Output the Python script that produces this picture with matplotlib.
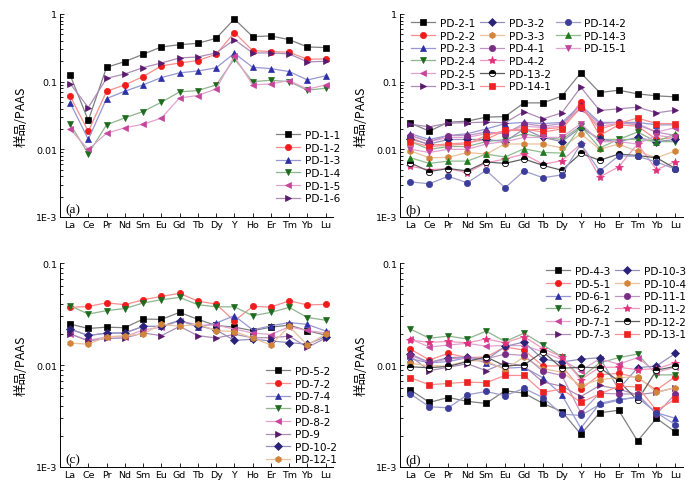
import numpy as np
import matplotlib.pyplot as plt
from matplotlib.ticker import FixedLocator, LogLocator, NullFormatter
from matplotlib.lines import Line2D
from matplotlib.colors import to_rgb

plt.rcParams['font.family'] = ['DejaVu Sans']

elements = ['La', 'Ce', 'Pr', 'Nd', 'Sm', 'Eu', 'Gd', 'Tb', 'Dy', 'Y', 'Ho', 'Er', 'Tm', 'Yb', 'Lu']

# panel (a)
a_labels = ['PD-1-1', 'PD-1-2', 'PD-1-3', 'PD-1-4', 'PD-1-5', 'PD-1-6']
a_values = [
    [0.126, 0.0267, 0.163, 0.198, 0.254, 0.326, 0.352, 0.369, 0.437, 0.844, 0.463, 0.474, 0.418, 0.326, 0.319],
    [0.0617, 0.0184, 0.0722, 0.0896, 0.119, 0.171, 0.189, 0.205, 0.254, 0.531, 0.288, 0.278, 0.272, 0.214, 0.217],
    [0.0492, 0.0140, 0.0563, 0.0722, 0.0896, 0.115, 0.135, 0.144, 0.160, 0.263, 0.163, 0.156, 0.141, 0.106, 0.122],
    [0.0238, 0.0086, 0.0230, 0.0292, 0.0362, 0.0497, 0.0706, 0.0739, 0.0896, 0.217, 0.100, 0.105, 0.100, 0.0748, 0.080],
    [0.0199, 0.00995, 0.0173, 0.0208, 0.0235, 0.0289, 0.0576, 0.0624, 0.0782, 0.237, 0.0896, 0.0927, 0.104, 0.0773, 0.0896],
    [0.0938, 0.0415, 0.112, 0.130, 0.161, 0.189, 0.224, 0.232, 0.266, 0.418, 0.266, 0.266, 0.257, 0.196, 0.200],
]

# panel (b)
b_labels = ['PD-2-1', 'PD-2-2', 'PD-2-3', 'PD-2-4', 'PD-2-5', 'PD-3-1', 'PD-3-2', 'PD-3-3',
            'PD-4-1', 'PD-4-2', 'PD-13-2', 'PD-14-1', 'PD-14-2', 'PD-14-3', 'PD-15-1']
b_values = [
    [0.0244, 0.0186, 0.0251, 0.0261, 0.0299, 0.0305, 0.0486, 0.0486, 0.061, 0.135, 0.069, 0.0748, 0.066, 0.0617, 0.0596],
    [0.015, 0.0115, 0.012, 0.0125, 0.014, 0.019, 0.019, 0.020, 0.021, 0.050, 0.016, 0.023, 0.022, 0.014, 0.015],
    [0.017, 0.014, 0.016, 0.017, 0.020, 0.024, 0.025, 0.024, 0.025, 0.045, 0.025, 0.025, 0.025, 0.023, 0.023],
    [0.013, 0.010, 0.011, 0.011, 0.013, 0.014, 0.017, 0.015, 0.014, 0.022, 0.014, 0.014, 0.018, 0.013, 0.013],
    [0.016, 0.013, 0.015, 0.015, 0.017, 0.018, 0.022, 0.021, 0.022, 0.040, 0.022, 0.024, 0.024, 0.018, 0.021],
    [0.0235, 0.0215, 0.0244, 0.0247, 0.0253, 0.0247, 0.0362, 0.0282, 0.0346, 0.0828, 0.0375, 0.0397, 0.0420, 0.0346, 0.0379],
    [0.014, 0.012, 0.014, 0.014, 0.014, 0.013, 0.020, 0.015, 0.013, 0.021, 0.014, 0.013, 0.015, 0.013, 0.014],
    [0.0095, 0.0075, 0.0076, 0.009, 0.0085, 0.012, 0.012, 0.012, 0.0105, 0.017, 0.010, 0.012, 0.0093, 0.0075, 0.0095],
    [0.016, 0.013, 0.016, 0.016, 0.018, 0.017, 0.024, 0.022, 0.024, 0.041, 0.024, 0.025, 0.023, 0.018, 0.016],
    [0.0056, 0.005, 0.0052, 0.0045, 0.0063, 0.0072, 0.0085, 0.006, 0.0068, 0.012, 0.0039, 0.0055, 0.012, 0.005, 0.0066],
    [0.0063, 0.0047, 0.0052, 0.0048, 0.0065, 0.0062, 0.0072, 0.0058, 0.0049, 0.0087, 0.0069, 0.0085, 0.0081, 0.0075, 0.0052],
    [0.013, 0.011, 0.0115, 0.012, 0.016, 0.019, 0.020, 0.018, 0.020, 0.042, 0.020, 0.024, 0.029, 0.024, 0.024],
    [0.0033, 0.0031, 0.0040, 0.0032, 0.0049, 0.0027, 0.0048, 0.0038, 0.0042, 0.012, 0.0048, 0.0080, 0.0079, 0.0065, 0.0051],
    [0.0075, 0.0062, 0.0067, 0.0067, 0.0085, 0.0077, 0.0102, 0.0090, 0.0088, 0.022, 0.0105, 0.014, 0.014, 0.013, 0.017],
    [0.010, 0.009, 0.010, 0.010, 0.012, 0.013, 0.015, 0.015, 0.015, 0.024, 0.013, 0.013, 0.012, 0.016, 0.015],
]

# panel (c)
c_labels = ['PD-5-2', 'PD-7-2', 'PD-7-4', 'PD-8-1', 'PD-8-2', 'PD-9', 'PD-10-2', 'PD-12-1']
c_values = [
    [0.0252, 0.0228, 0.0235, 0.0232, 0.0282, 0.0280, 0.0328, 0.0280, 0.0244, 0.0235, 0.0217, 0.0235, 0.0246, 0.0217, 0.0196],
    [0.0367, 0.0375, 0.0407, 0.0390, 0.0436, 0.0471, 0.0504, 0.0423, 0.0395, 0.027, 0.0375, 0.0370, 0.0426, 0.0388, 0.0393],
    [0.0225, 0.0194, 0.0206, 0.0206, 0.0239, 0.0239, 0.0275, 0.0234, 0.0258, 0.0304, 0.0221, 0.0242, 0.0261, 0.0250, 0.0215],
    [0.0380, 0.0316, 0.0341, 0.0358, 0.0405, 0.0436, 0.0460, 0.0390, 0.0372, 0.0372, 0.0304, 0.0328, 0.0367, 0.0292, 0.0275],
    [0.0202, 0.0174, 0.0189, 0.0189, 0.0221, 0.0234, 0.0272, 0.0246, 0.0246, 0.0225, 0.0206, 0.0199, 0.0237, 0.0218, 0.0206],
    [0.0202, 0.0172, 0.0182, 0.0184, 0.0206, 0.0194, 0.0239, 0.0194, 0.0184, 0.0200, 0.0185, 0.0185, 0.0192, 0.0149, 0.0184],
    [0.0225, 0.0195, 0.0205, 0.0206, 0.0239, 0.0239, 0.0272, 0.0242, 0.0221, 0.0174, 0.0179, 0.0172, 0.0166, 0.0160, 0.0190],
    [0.0164, 0.0160, 0.0189, 0.0194, 0.0201, 0.0252, 0.0239, 0.0252, 0.0217, 0.0213, 0.0184, 0.0157, 0.0239, 0.0157, 0.0201],
]

# panel (d); the last row has no legend entry
d_labels = ['PD-4-3', 'PD-5-1', 'PD-6-1', 'PD-6-2', 'PD-7-1', 'PD-7-3', 'PD-10-3', 'PD-10-4',
            'PD-11-1', 'PD-11-2', 'PD-12-2', 'PD-13-1', '_nolegend_']
d_values = [
    [0.0057, 0.0043, 0.0048, 0.0044, 0.0042, 0.0056, 0.0053, 0.0042, 0.0035, 0.0021, 0.0034, 0.0036, 0.0018, 0.0030, 0.0022],
    [0.0143, 0.0112, 0.0130, 0.0118, 0.0120, 0.0150, 0.0140, 0.0098, 0.0098, 0.0058, 0.0080, 0.0083, 0.0075, 0.0057, 0.0077],
    [0.0115, 0.0105, 0.0108, 0.0118, 0.0105, 0.0093, 0.0095, 0.0075, 0.0051, 0.0024, 0.0042, 0.0046, 0.0048, 0.0034, 0.0030],
    [0.0225, 0.0183, 0.0192, 0.0180, 0.0215, 0.0170, 0.0205, 0.0158, 0.0120, 0.0075, 0.0105, 0.0118, 0.0128, 0.0080, 0.0080],
    [0.0180, 0.0150, 0.0157, 0.0163, 0.0153, 0.0155, 0.0155, 0.0135, 0.0113, 0.0088, 0.0115, 0.0102, 0.0118, 0.0085, 0.0095],
    [0.0122, 0.0088, 0.0095, 0.0103, 0.0088, 0.0105, 0.0098, 0.0068, 0.0062, 0.0049, 0.0063, 0.0058, 0.0051, 0.0054, 0.0060],
    [0.0128, 0.0106, 0.0118, 0.0120, 0.0112, 0.0152, 0.0168, 0.0114, 0.0107, 0.0114, 0.0118, 0.0058, 0.0094, 0.0098, 0.0130],
    [0.0104, 0.0098, 0.0098, 0.0110, 0.0110, 0.0090, 0.0120, 0.0092, 0.0085, 0.0063, 0.0072, 0.0075, 0.0077, 0.0054, 0.0060],
    [0.0125, 0.0105, 0.0115, 0.0118, 0.0115, 0.0128, 0.0124, 0.0087, 0.0079, 0.0034, 0.0053, 0.0052, 0.0052, 0.0033, 0.0052],
    [0.0175, 0.0167, 0.0170, 0.0165, 0.0180, 0.0165, 0.0190, 0.0145, 0.0120, 0.0072, 0.0095, 0.0095, 0.0090, 0.0092, 0.0105],
    [0.0096, 0.0094, 0.0097, 0.0108, 0.0120, 0.0098, 0.0100, 0.0135, 0.0093, 0.0095, 0.0094, 0.0070, 0.0045, 0.0089, 0.0097],
    [0.0075, 0.0064, 0.0066, 0.0068, 0.0067, 0.0079, 0.0079, 0.0054, 0.0058, 0.0043, 0.0052, 0.0062, 0.0061, 0.0036, 0.0046],
    [0.0052, 0.0039, 0.0038, 0.0051, 0.0055, 0.0050, 0.0059, 0.0048, 0.0033, 0.0032, 0.0041, 0.0045, 0.0049, 0.0034, 0.0026],
]

# Origin-like style cycle (colour, marker)
styles = [
    ('#000000', 's'), ('#f01c1c', 'o'), ('#2e2ea8', '^'), ('#1e6b1e', 'v'),
    ('#c8449c', '<'), ('#5a1a6e', '>'), ('#2a2278', 'D'), ('#d2843a', 'h'),
    ('#7a2b86', 'o'), ('#e0307a', '*'), ('sphere', 'o'), ('#ee2222', 's'),
    ('#3c3c9a', 'o'), ('#1f7a1f', '^'), ('#c0449c', 'v'),
]


def lighter(c, f=0.5):
    r, g, b = to_rgb(c)
    return (r + (1 - r) * f, g + (1 - g) * f, b + (1 - b) * f)


def draw(ax, labels, values, ymin, ymax, tag):
    x = np.arange(len(elements))
    for i, (lab, vals) in enumerate(zip(labels, values)):
        col, mk = styles[i]
        ms = 3.8 if mk == 'D' else (6 if mk == '*' else 4.5)
        if col == 'sphere':
            ax.plot(x, vals, color='#606060', lw=0.9, marker='o', ms=ms,
                    markerfacecolor='black', markerfacecoloralt='white',
                    fillstyle='top', markeredgecolor='black', mew=0.6, label=lab)
        else:
            ax.plot(x, vals, color=lighter(col), lw=0.9, marker=mk, ms=ms,
                    markerfacecolor=col, markeredgecolor=col, mew=0.5, label=lab)
    ax.set_yscale('log')
    ax.set_ylim(ymin, ymax)
    ax.set_xlim(-0.55, 14.4)
    ax.set_xticks(x)
    ax.set_xticklabels(elements, fontsize=6.8)
    majors = [v for v in [1e-3, 1e-2, 1e-1, 1] if ymin <= v <= ymax]
    names = {1e-3: '1E-3', 1e-2: '0.01', 1e-1: '0.1', 1: '1'}
    ax.yaxis.set_major_locator(FixedLocator(majors))
    ax.set_yticklabels([names[v] for v in majors], fontsize=6.8)
    ax.yaxis.set_minor_locator(LogLocator(base=10, subs=np.arange(2, 10)))
    ax.yaxis.set_minor_formatter(NullFormatter())
    ax.tick_params(which='both', direction='in', width=0.6)
    ax.tick_params(which='major', length=3, pad=2)
    ax.tick_params(which='minor', length=1.8)
    for s in ['top', 'right']:
        ax.spines[s].set_visible(False)
    for s in ['left', 'bottom']:
        ax.spines[s].set_linewidth(0.7)
    ax.set_ylabel('样品/PAAS', family=['Noto Sans CJK SC', 'DejaVu Sans'], fontsize=9, labelpad=6)
    ax.text(0.02, 0.025, tag, transform=ax.transAxes, family='Liberation Serif', fontsize=9.5)


fig = plt.figure(figsize=(7, 4.85), dpi=100)
W, H = 700, 485


def box(l, r, t, b):
    return [l / W, 1 - b / H, (r - l) / W, (b - t) / H]


ax_a = fig.add_axes(box(60, 333, 15, 218))
ax_b = fig.add_axes(box(400, 683, 15, 218))
ax_c = fig.add_axes(box(60, 333, 264, 468))
ax_d = fig.add_axes(box(400, 683, 264, 468))

draw(ax_a, a_labels, a_values, 1e-3, 1, '(a)')
draw(ax_b, b_labels, b_values, 1e-3, 1, '(b)')
draw(ax_c, c_labels, c_values, 1e-3, 0.1, '(c)')
draw(ax_d, d_labels, d_values, 1e-3, 0.1, '(d)')

leg_kw = dict(frameon=False, fontsize=7.6, handlelength=2.3, handletextpad=0.4,
              labelspacing=0.25, borderpad=0, borderaxespad=0)

ax_a.legend(loc='upper left', bbox_to_anchor=(276 / W, 1 - 131 / H), bbox_transform=fig.transFigure, **leg_kw)
ax_c.legend(loc='upper left', bbox_to_anchor=(266 / W, 1 - 367 / H), bbox_transform=fig.transFigure, **leg_kw)

# panel b legend: 6 / 6 / 3 entries per column
h_b, l_b = ax_b.get_legend_handles_labels()
blank = Line2D([], [], linestyle='none', marker='none')
h_b = h_b + [blank] * 3
l_b = l_b + [''] * 3
ax_b.legend(h_b, l_b, ncol=3, columnspacing=0.5, loc='upper left',
            bbox_to_anchor=(411 / W, 1 - 19 / H), bbox_transform=fig.transFigure, **leg_kw)

h_d, l_d = ax_d.get_legend_handles_labels()
ax_d.legend(h_d, l_d, ncol=2, columnspacing=0.5, loc='upper left',
            bbox_to_anchor=(546 / W, 1 - 267 / H), bbox_transform=fig.transFigure, **leg_kw)

fig.savefig('out.png', dpi=100)
